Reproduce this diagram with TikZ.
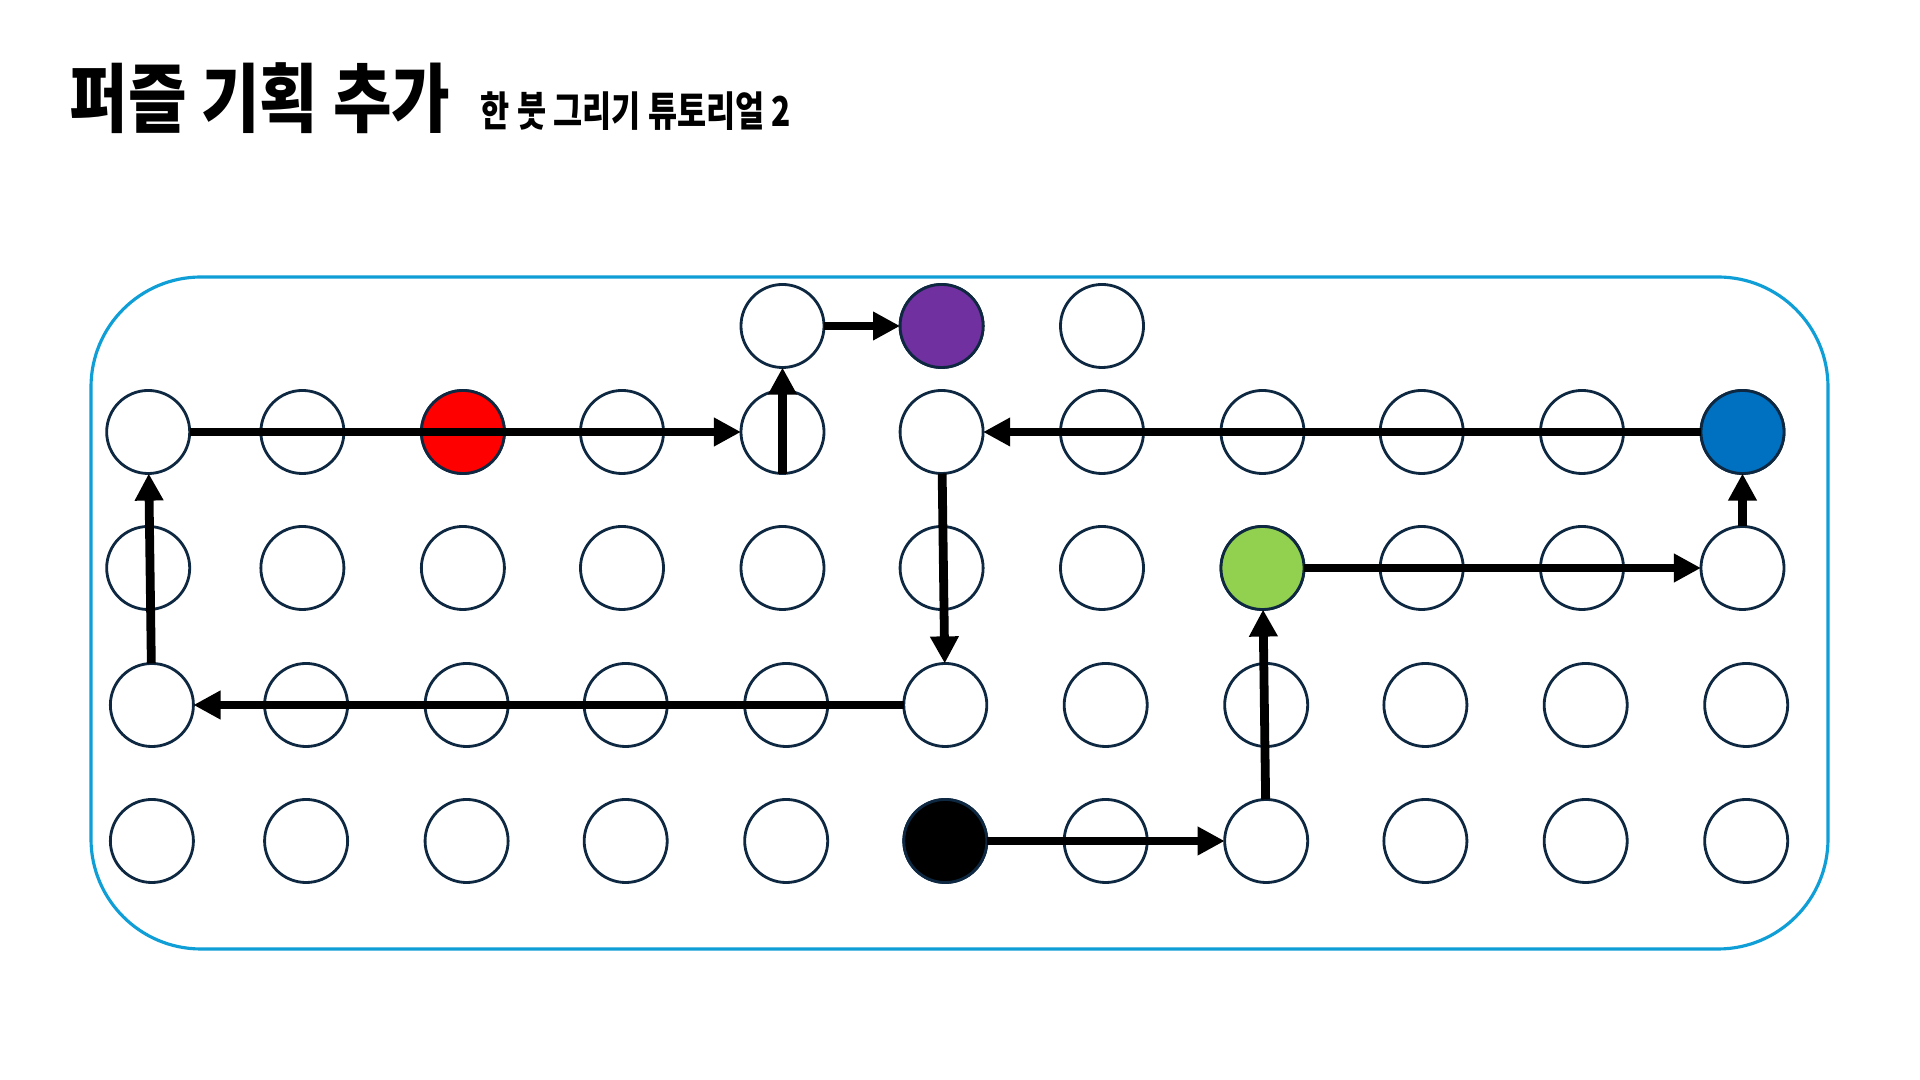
\documentclass[tikz,border=0pt]{standalone}
\usepackage{fontspec}
\usepackage{graphicx}
\usepackage{tikz}
\usetikzlibrary{
    arrows.meta,
    positioning
}
\newfontfamily\krfont{Noto Sans CJK KR}
\definecolor{framecyan}{RGB}{15,158,213}
\definecolor{dotnavy}{RGB}{14,40,65}
\definecolor{startred}{RGB}{255,0,0}
\definecolor{goalpurple}{RGB}{112,48,160}
\definecolor{turnblue}{RGB}{0,112,192}
\definecolor{turngreen}{RGB}{146,208,80}

\begin{document}
\begin{tikzpicture}[
        x=0.01cm, y=-0.01cm,
        dot/.style={circle, draw=dotnavy, line width=0.8pt, fill=white, minimum size=0.83cm, inner sep=0pt, outer sep=0pt},
        link/.style={-{Triangle[length=7.7pt, width=7.7pt]}, line width=2.5pt}
    ]
        \useasboundingbox (0,0) rectangle (1920,1080);

        % Title
        \node[anchor=base west, inner sep=0pt] (title) at (69,127) {\krfont\bfseries\fontsize{18.1pt}{20pt}\selectfont\scalebox{1}[1.18]{퍼즐 기획 추가}};
        \node[anchor=base west, inner sep=0pt] (subtitle) at (480,127) {\krfont\bfseries\fontsize{9pt}{11pt}\selectfont\scalebox{1}[1.3]{한 붓 그리기 튜토리얼 2}};

        % Board
        \draw[framecyan, line width=0.9pt, rounded corners=1.1cm] (91,277) rectangle (1828,949);

        % Grid of dots
        \foreach \r/\y/\dx in {1/432/0, 2/568/0, 3/705/3.7, 4/841/3.7} {
            \foreach \c/\x in {0/148.2, 1/302.4, 2/462.9, 3/622, 4/782.5, 5/941.6, 6/1102, 7/1262.5, 8/1421.7, 9/1582, 10/1742.5} {
                \node[dot] (p\r-\c) at ({\x+\dx},\y) {};
            }
        }
        \foreach \c/\x in {4/782.5, 5/941.6, 6/1102} {
            \node[dot] (t\c) at (\x,326) {};
        }

        % Coloured dots
        \node[dot, fill=startred] (p1-2) at (p1-2) {};
        \node[dot, fill=goalpurple] (t5) at (t5) {};
        \node[dot, fill=turnblue] (p1-10) at (p1-10) {};
        \node[dot, fill=turngreen] (p2-7) at (p2-7) {};
        \node[dot, fill=black] (p4-5) at (p4-5) {};

        % Stroke
        \foreach \i/\j in {p4-5/p4-7, p4-7/p2-7, p2-7/p2-10, p2-10/p1-10, p1-10/p1-5, p1-5/p3-5, p3-5/p3-0, p3-0/p1-0, p1-0/p1-4, p1-4.south/t4, t4/t5} {
            \draw[link] (\i) -- (\j);
        }

    \end{tikzpicture}
\end{document}
